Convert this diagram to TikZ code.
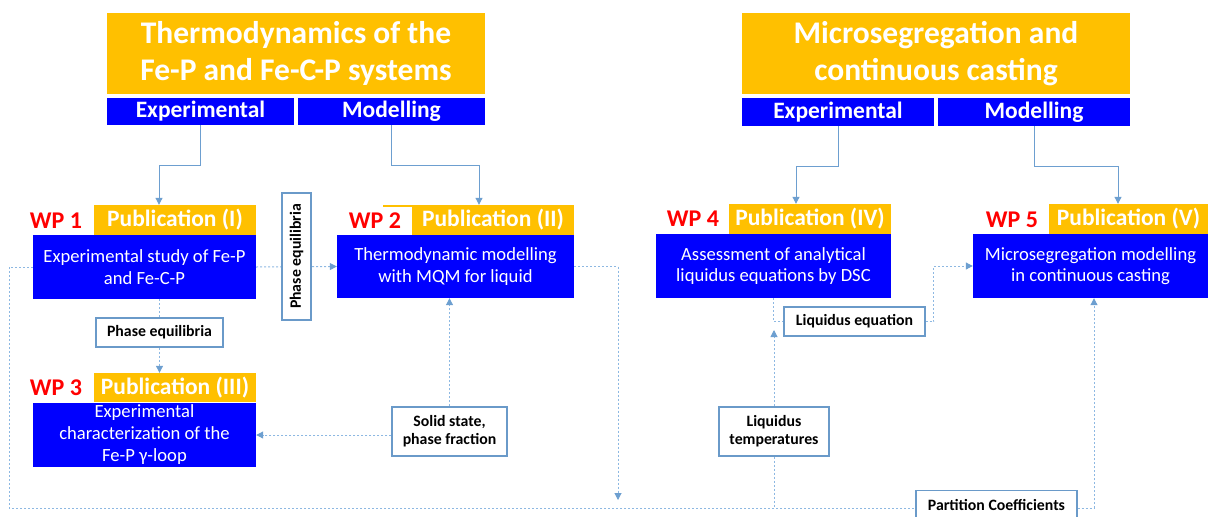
\documentclass[tikz,border=0pt]{standalone}
\usepackage{fontspec}
\setmainfont{Carlito}
\usetikzlibrary{arrows.meta,calc}
\definecolor{orng}{HTML}{FFC000}
\definecolor{bbl}{HTML}{0000FF}
\definecolor{wpred}{HTML}{FF0000}
\definecolor{lblc}{HTML}{6A9AC9}
\definecolor{dashc}{HTML}{8DB8E2}
\definecolor{solc}{HTML}{6D9FD0}
\pgfdeclarelayer{bg}
\pgfsetlayers{bg,main}
\tikzset{
 ttl/.style={fill=orng,text=white,font=\bfseries\fontsize{31.5}{37}\selectfont,align=center,inner sep=0},
 sub/.style={fill=bbl,text=white,font=\bfseries\fontsize{23.5}{28}\selectfont,inner sep=0},
 pub/.style={fill=orng,text=white,font=\bfseries\fontsize{23.5}{28}\selectfont,inner sep=0,minimum height=30},
 wpbox/.style={fill=bbl,text=white,font=\fontsize{18.6}{21.5}\selectfont,align=center,inner sep=0},
 wp/.style={text=wpred,font=\bfseries\fontsize{24}{28}\selectfont,inner sep=0},
 lbl/.style={draw=lblc,line width=1.3pt,fill=white,font=\bfseries\fontsize{15.8}{18}\selectfont,align=center,inner sep=0},
 link/.style={draw=dashc,line width=1pt,dash pattern=on 2pt off 2pt},
 sol/.style={draw=solc,line width=1pt},
 tip/.style={-{Triangle[width=7pt,length=7pt,fill=solc,color=solc]}},
}
\begin{document}
\begin{tikzpicture}[x=1pt,y=-1pt]
\useasboundingbox (0,0) rectangle (1211,517);
% headers
\node[ttl,minimum width=378,minimum height=81] (t1) at (296,53.5) {Thermodynamics of the\\Fe-P and Fe-C-P systems};
\node[sub,minimum width=187,minimum height=27] (e1) at (200.5,111.5) {Experimental};
\node[sub,minimum width=187,minimum height=27] (m1) at (391.5,111.5) {Modelling};
\node[ttl,minimum width=388,minimum height=81] (t2) at (936,53.5) {Microsegregation and\\continuous casting};
\node[sub,minimum width=192,minimum height=28] (e2) at (838,112) {Experimental};
\node[sub,minimum width=192,minimum height=28] (m2) at (1034,112) {Modelling};
% WP1
\node[pub,minimum width=162] (p1) at (175,220) {Publication (I)};
\node[wpbox,minimum width=223,minimum height=64] (b1) at (144.5,267) {Experimental study of Fe-P\\and Fe-C-P};
\node[wp] (w1) at (56,221) {WP 1};
% WP2
\fill[orng] (383,205) rectangle (412,206.5);
\node[pub,minimum width=162] (p2) at (493,220) {Publication (II)};
\node[wpbox,minimum width=237,minimum height=63] (b2) at (455.5,266.5) {Thermodynamic modelling\\with MQM for liquid};
\node[wp] (w2) at (375,221) {WP 2};
% WP3
\node[pub,minimum width=162,minimum height=29] (p3) at (175,387.5) {Publication (III)};
\node[wpbox,minimum width=223,minimum height=64,font=\fontsize{18.6}{22}\selectfont] (b3) at (144.5,435) {Experimental\\characterization of the\\Fe-P γ-loop};
\node[wp] (w3) at (56,388) {WP 3};
% WP4
\node[pub,minimum width=162] (p4) at (810,219) {Publication (IV)};
\node[wpbox,minimum width=235,minimum height=64] (b4) at (773.5,266) {Assessment of analytical\\liquidus equations by DSC};
\node[wp] (w4) at (693,219) {WP 4};
% WP5
\node[pub,minimum width=159] (p5) at (1128.5,219) {Publication (V)};
\node[wpbox,minimum width=235,minimum height=64] (b5) at (1090.5,266) {Microsegregation modelling\\in continuous casting};
\node[wp] (w5) at (1012,220) {WP 5};
% labels
\node[lbl,rotate=90,minimum width=127,minimum height=29] (pe1) at (296.5,256.5) {Phase equilibria};
\node[lbl,minimum width=127,minimum height=29] (pe2) at (159.5,332.5) {Phase equilibria};
\node[lbl,minimum width=115,minimum height=49] (ss) at (449.5,431.5) {Solid state,\\phase fraction};
\node[lbl,minimum width=141,minimum height=29] (le) at (854.5,321.5) {Liquidus equation};
\node[lbl,minimum width=110,minimum height=49] (lt) at (774,431.5) {Liquidus\\temperatures};
\node[lbl,minimum width=161,minimum height=29] (pc) at (996.5,505) {Partition Coefficients};
\coordinate (bl) at (9,508);
\coordinate (d1) at (618,500);
\coordinate (lq) at (774,330);
\begin{pgfonlayer}{bg}
% solid header arrows
\draw[sol,tip] (e1.south) -- ++(0,40) -| ([xshift=-16]p1.north);
\draw[sol,tip] (m1.south) -- ++(0,40) -| ([xshift=-14]p2.north);
\draw[sol,tip] (e2.south) -- ++(0,40) -| ([xshift=-14]p4.north);
\draw[sol,tip] (m2.south) -- ++(0,40) -| ([xshift=-10.5]p5.north);
% dashed links
\draw[link,tip] (b1.east) -- (b2.west);
\draw[link] (pe2.north |- b1.south) -- (pe2.north);
\draw[link,tip] (pe2.south) -- (pe2.south |- p3.north);
\draw[link,tip] (ss.west |- 0,435) -- (b3.east |- 0,435);
\draw[link,tip] (ss.north) -- (ss.north |- b2.south);
\draw[link,tip] (b2.east) -| (d1);
\draw[link] (b1.west) -| (bl) -- (bl -| pc.west);
\draw[link,tip] (bl -| pc.east) -| ([xshift=3.5]b5.south);
\draw[link] (lt.south) -- (lt.south |- bl);
\draw[link,tip] (lt.north) -- (lq);
\draw[link] (b4.south) -- (b4.south |- le.west) -- (le.west);
\draw[link,tip] (le.east) -- ++(8,0) |- (b5.west);
\end{pgfonlayer}
\end{tikzpicture}
\end{document}
